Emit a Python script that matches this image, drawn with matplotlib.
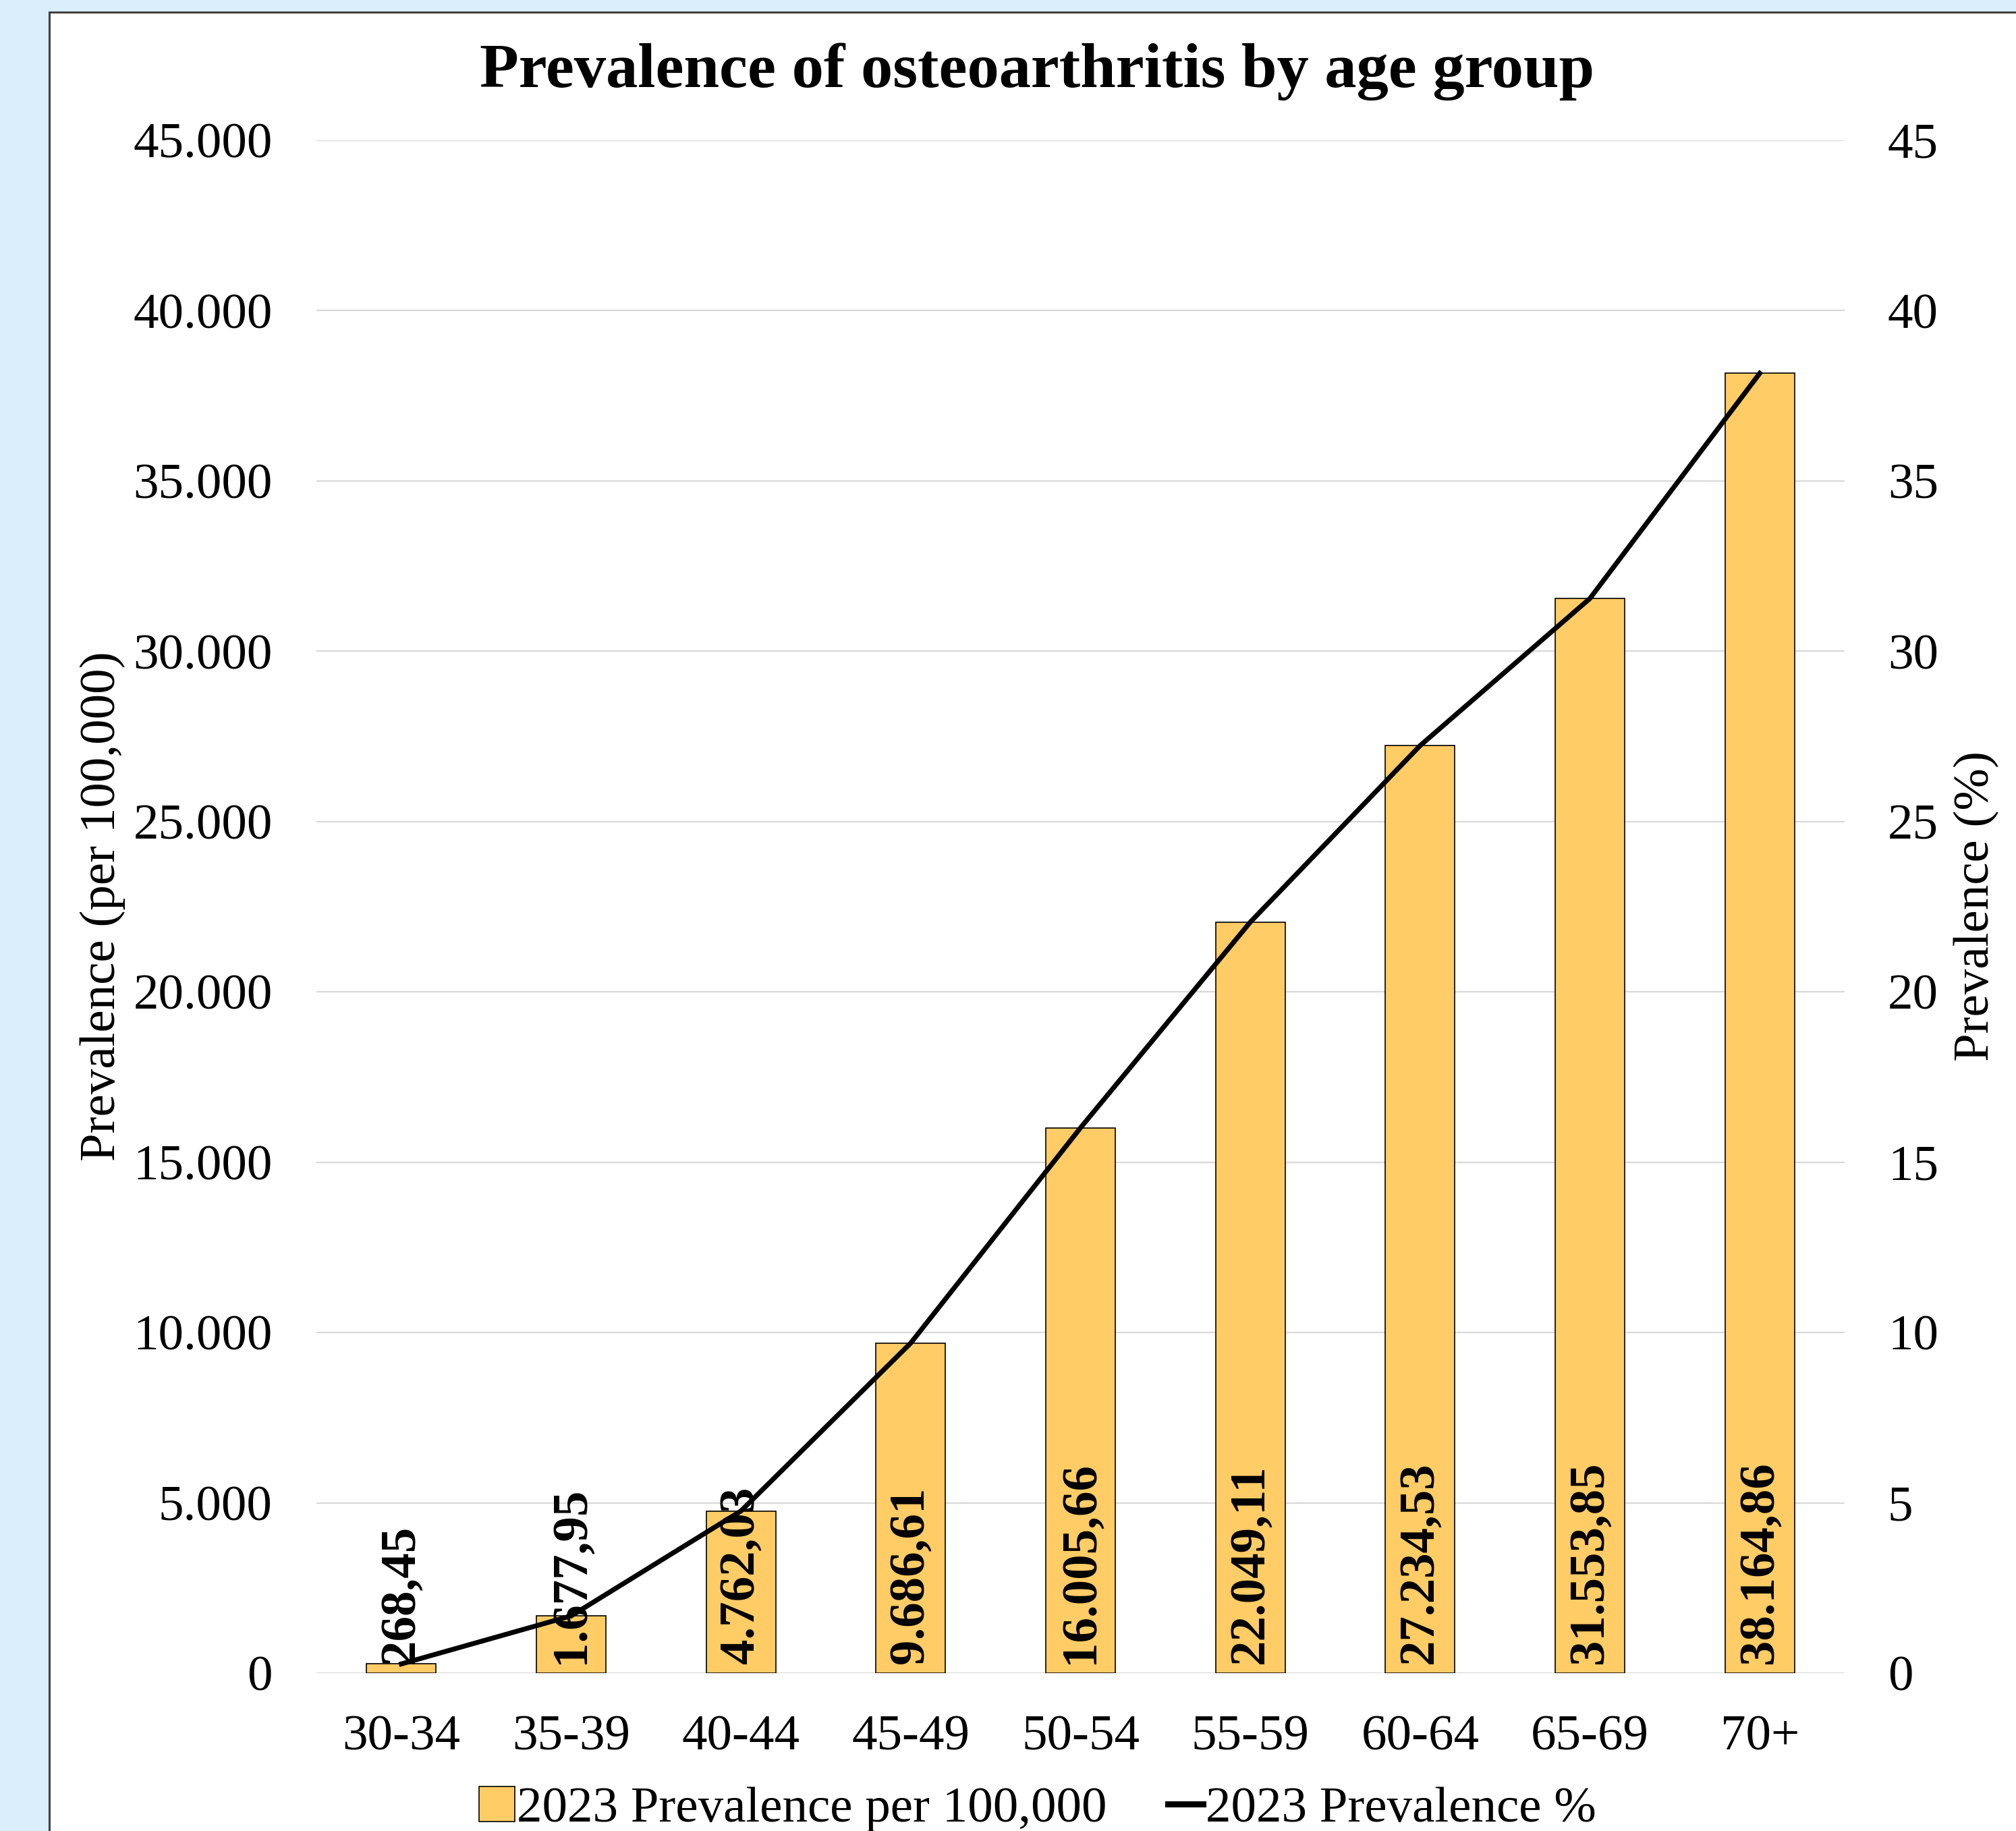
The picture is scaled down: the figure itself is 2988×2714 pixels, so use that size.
import numpy as np
import matplotlib.pyplot as plt
from matplotlib.patches import Rectangle
from matplotlib.lines import Line2D

# Data
age_groups = ['30-34', '35-39', '40-44', '45-49', '50-54', '55-59', '60-64', '65-69', '70+']
prev_per_100k = [268.45, 1677.95, 4762.03, 9686.61, 16005.66, 22049.11, 27234.53, 31553.85, 38164.86]
prev_pct = [0.27, 1.68, 4.76, 9.69, 16.01, 22.05, 27.23, 31.55, 38.16]
left_ticks = [0, 5000, 10000, 15000, 20000, 25000, 30000, 35000, 40000, 45000]
right_ticks = [0, 5, 10, 15, 20, 25, 30, 35, 40, 45]


def eu_fmt(v, decimals=2):
    s = f'{v:,.{decimals}f}'
    return s.replace(',', 'X').replace('.', ',').replace('X', '.')


plt.rcParams['font.family'] = ['Liberation Serif', 'DejaVu Serif']

W, H = 2988, 2714
fig = plt.figure(figsize=(W / 100, H / 100), dpi=100)
fig.patch.set_facecolor('#DAEEFB')

# white panel with border
panel = Rectangle((73 / W, -0.05), 1.0, 1.05 - 18 / H, transform=fig.transFigure,
                  facecolor='white', edgecolor='#404040', linewidth=2.2, zorder=-10)
fig.add_artist(panel)

ax = fig.add_axes([469 / W, 1 - 2480 / H, (2734 - 469) / W, (2480 - 208) / H])
ax.set_facecolor('none')
ax2 = ax.twinx()

x = np.arange(len(age_groups))
ax.bar(x, prev_per_100k, width=0.41, color='#FFCC66', edgecolor='black',
       linewidth=1.2, zorder=2)
ax.set_xlim(-0.5, len(age_groups) - 0.5)
ax.set_ylim(0, 45000)
ax.set_yticks(left_ticks)
ax.set_yticklabels([eu_fmt(t, 0) for t in left_ticks])
ax.set_xticks(x)
ax.set_xticklabels(age_groups)
ax.grid(axis='y', color='#D9D9D9', linewidth=1.6, zorder=0)
ax.set_axisbelow(True)
ax.tick_params(axis='both', length=0, labelsize=54)
ax.tick_params(axis='y', pad=47)
ax.tick_params(axis='x', pad=45)
for s in ax.spines.values():
    s.set_visible(False)

# bar labels, inside base, rotated
for xi, v in zip(x, prev_per_100k):
    ax.annotate(eu_fmt(v), (xi, 0), xytext=(0, 10), textcoords='offset points',
                rotation=90, ha='center', va='bottom', fontsize=54,
                fontweight='bold', zorder=5)

ax2.plot(x, prev_pct, color='black', linewidth=5.2, zorder=4)
ax2.set_ylim(0, 45)
ax2.set_yticks(right_ticks)
ax2.tick_params(axis='y', length=0, labelsize=54, pad=46)
for s in ax2.spines.values():
    s.set_visible(False)

fig.text(152 / W, 1 - 1343 / H, 'Prevalence (per 100,000)', rotation=90,
         ha='center', va='center', fontsize=54)
fig.text(2929 / W, 1 - 1343 / H, 'Prevalence (%)', rotation=90,
         ha='center', va='center', fontsize=54)

fig.text(1537 / W, 1 - 106 / H, 'Prevalence of osteoarthritis by age group',
         ha='center', va='center', fontsize=68, fontweight='bold')

handles = [Rectangle((0, 0), 1, 1, facecolor='#FFCC66', edgecolor='black', linewidth=1.2),
           Line2D([0], [0], color='black', linewidth=6.5)]
fig.legend(handles, ['2023 Prevalence per 100,000', '2023 Prevalence %'],
           loc='center', bbox_to_anchor=(1538 / W, 1 - 2682 / H), ncol=2,
           frameon=False, fontsize=54, handlelength=0.7, handleheight=0.7,
           handletextpad=0.05, columnspacing=1.2, borderaxespad=0)

fig.savefig('out.png', dpi=100)
